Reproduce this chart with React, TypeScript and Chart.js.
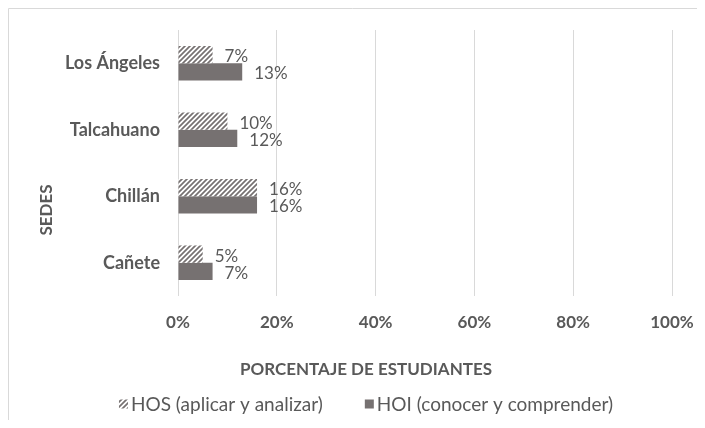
import React, { useEffect, useRef } from "react";
import { Chart, registerables } from "chart.js";

Chart.register(...registerables);

const categories = ["Los Ángeles", "Talcahuano", "Chillán", "Cañete"];
const hosValues = [7, 10, 16, 5];
const hoiValues = [13, 12, 16, 7];
const seriesLabels = ["HOS (aplicar y analizar)", "HOI (conocer y comprender)"];
const xTitle = "PORCENTAJE DE ESTUDIANTES";
const yTitle = "SEDES";

const GRAY = "#767171";
const TEXT = "#595959";
const FONT = "Lato, 'Open Sans', sans-serif";

function makeHatch(ctx: CanvasRenderingContext2D): CanvasPattern | string {
  const c = document.createElement("canvas");
  const s = 5;
  c.width = s;
  c.height = s;
  const p = c.getContext("2d");
  if (!p) return GRAY;
  p.fillStyle = "#ffffff";
  p.fillRect(0, 0, s, s);
  p.strokeStyle = GRAY;
  p.lineWidth = 1.7;
  p.beginPath();
  p.moveTo(-1, s + 1);
  p.lineTo(s + 1, -1);
  p.moveTo(-1, 1);
  p.lineTo(1, -1);
  p.moveTo(s - 1, s + 1);
  p.lineTo(s + 1, s - 1);
  p.stroke();
  return ctx.createPattern(c, "repeat") || GRAY;
}

const extrasPlugin = {
  id: "extras",
  afterDatasetsDraw(chart: any) {
    const ctx = chart.ctx as CanvasRenderingContext2D;
    ctx.save();
    ctx.font = `17px ${FONT}`;
    ctx.fillStyle = TEXT;
    ctx.textAlign = "left";
    ctx.textBaseline = "middle";
    chart.data.datasets.forEach((ds: any, di: number) => {
      const meta = chart.getDatasetMeta(di);
      meta.data.forEach((el: any, i: number) => {
        ctx.fillText(`${ds.data[i]}%`, el.x + 12, el.y + 2);
      });
    });
    ctx.restore();
  },
  afterDraw(chart: any) {
    const ctx = chart.ctx as CanvasRenderingContext2D;
    ctx.save();
    // frame (top & left)
    ctx.strokeStyle = "#d9d9d9";
    ctx.lineWidth = 1;
    ctx.beginPath();
    ctx.moveTo(0.5, chart.height);
    ctx.lineTo(0.5, 0.5);
    ctx.lineTo(chart.width, 0.5);
    ctx.stroke();

    // axis titles
    ctx.fillStyle = TEXT;
    ctx.font = `bold 17px ${FONT}`;
    ctx.textAlign = "center";
    ctx.textBaseline = "middle";
    ctx.fillText(xTitle, 358, 362);
    ctx.save();
    ctx.translate(39, 202);
    ctx.rotate(-Math.PI / 2);
    ctx.fillText(yTitle, 0, 0);
    ctx.restore();

    // legend
    ctx.font = `19px ${FONT}`;
    ctx.textAlign = "left";
    const box = 9;
    const gapText = 3;
    const gapItem = 42;
    const items = chart.data.datasets.map((ds: any) => ({
      label: ds.label as string,
      fill: ds.backgroundColor,
      w: ctx.measureText(ds.label).width,
    }));
    const total =
      items.reduce((a: number, it: any) => a + box + gapText + it.w, 0) + gapItem * (items.length - 1);
    let x = 358 - total / 2;
    const y = 396;
    items.forEach((it: any) => {
      ctx.fillStyle = it.fill;
      ctx.fillRect(x, y - box / 2, box, box);
      ctx.fillStyle = TEXT;
      ctx.fillText(it.label, x + box + gapText, y + 1);
      x += box + gapText + it.w + gapItem;
    });
    ctx.restore();
  },
};

export default function App() {
  const ref = useRef<HTMLCanvasElement | null>(null);

  useEffect(() => {
    const canvas = ref.current;
    if (!canvas) return;
    const ctx = canvas.getContext("2d");
    if (!ctx) return;
    const hatch = makeHatch(ctx);

    const chart = new Chart(canvas, {
      type: "bar",
      data: {
        labels: categories,
        datasets: [
          {
            label: seriesLabels[0],
            data: hosValues,
            backgroundColor: hatch as any,
            borderWidth: 0,
            categoryPercentage: 0.52,
            barPercentage: 1,
          },
          {
            label: seriesLabels[1],
            data: hoiValues,
            backgroundColor: GRAY,
            borderWidth: 0,
            categoryPercentage: 0.52,
            barPercentage: 1,
          },
        ],
      },
      options: {
        indexAxis: "y",
        animation: false,
        responsive: false,
        maintainAspectRatio: false,
        layout: { padding: { top: 22, right: 25, left: 0, bottom: 0 } },
        plugins: {
          legend: { display: false },
          tooltip: { enabled: false },
          title: { display: false },
        },
        scales: {
          x: {
            min: 0,
            max: 100,
            ticks: {
              stepSize: 20,
              padding: 16,
              color: TEXT,
              font: { family: FONT, size: 17, weight: "bold" },
              callback: (v: any) => `${v}%`,
            },
            grid: { color: "#d9d9d9", drawTicks: false, lineWidth: 1 },
            border: { display: false },
            afterFit: (scale: any) => {
              scale.height = 124;
              scale.paddingLeft = 0;
              scale.paddingRight = 0;
            },
          },
          y: {
            ticks: {
              padding: 18,
              color: TEXT,
              font: { family: FONT, size: 18, weight: "bold" },
            },
            grid: { display: false, drawTicks: false },
            border: { display: false },
            afterFit: (scale: any) => {
              scale.width = 170;
              scale.paddingTop = 0;
              scale.paddingBottom = 0;
            },
          },
        },
      },
      plugins: [extrasPlugin],
    });
    return () => chart.destroy();
  }, []);

  return (
    <div style={{ width: 689, height: 412 }}>
      <canvas ref={ref} width={689} height={412} style={{ display: "block" }} />
    </div>
  );
}
